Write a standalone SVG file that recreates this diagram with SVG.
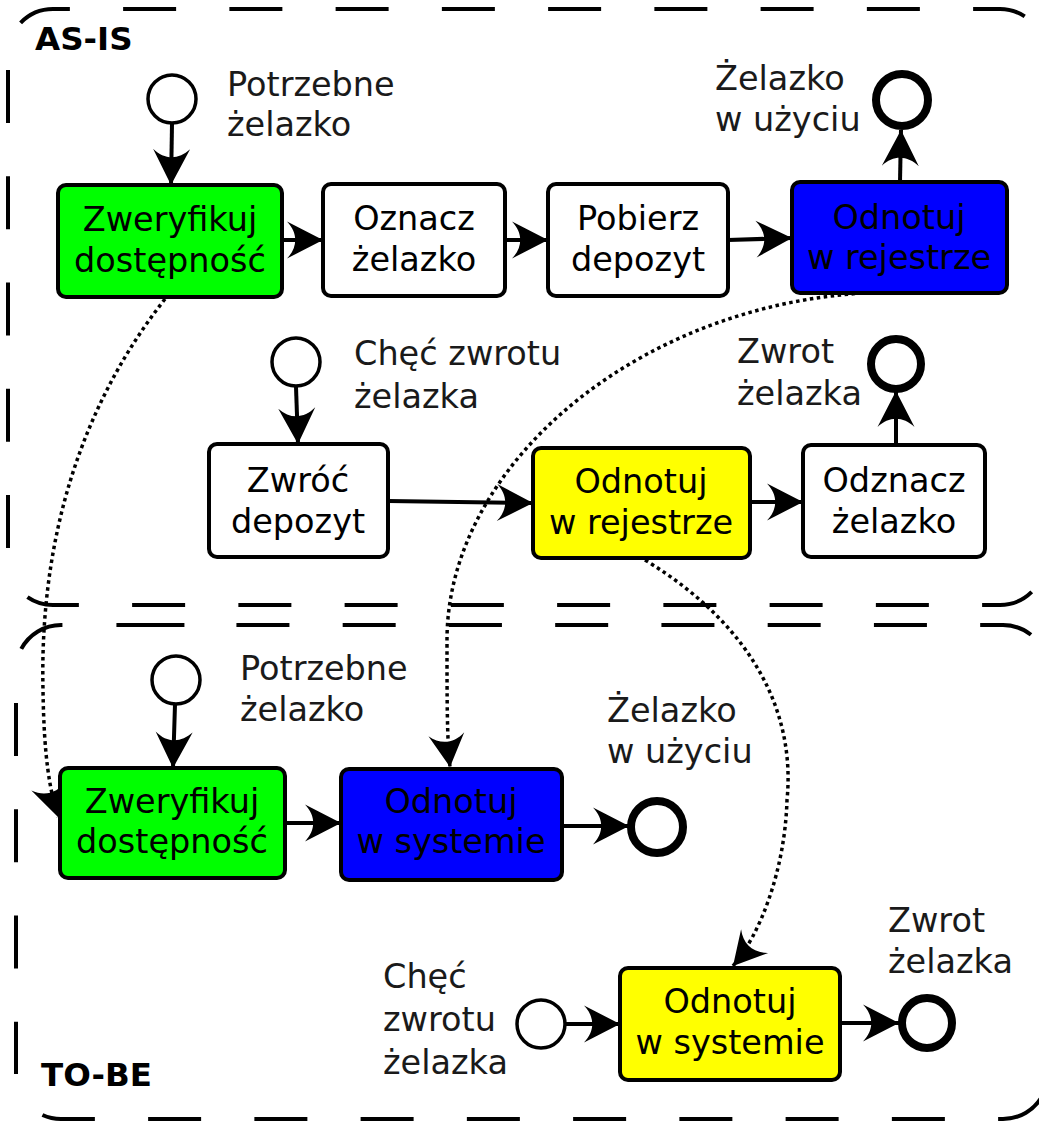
<svg xmlns="http://www.w3.org/2000/svg" width="1039" height="1124" viewBox="0 0 1039 1124">
<style>
.fr{fill:none;stroke:#000;stroke-width:4;stroke-dasharray:53 53.25}
.box{stroke:#000;stroke-width:4}
.t{font-family:"DejaVu Sans",sans-serif;font-size:33.5px;fill:#000;text-anchor:middle}
.l{font-family:"DejaVu Sans",sans-serif;font-size:33.5px;fill:#1a1a1a}
.h{font-family:"DejaVu Sans",sans-serif;font-size:32.5px;font-weight:bold;fill:#000}
.st{fill:#fff;stroke:#000;stroke-width:3.5}
.en{fill:#fff;stroke:#000;stroke-width:8}
.c{fill:none;stroke:#000;stroke-width:4;marker-end:url(#ah)}
.d{fill:none;stroke:#000;stroke-width:3.5;stroke-dasharray:3.5 3.5;marker-end:url(#ahd)}
</style>
<defs>
<marker id="ah" markerUnits="userSpaceOnUse" markerWidth="44" markerHeight="44" viewBox="-38 -22 44 44" refX="0" refY="0" orient="auto">
<path d="M0,0 L-36,-18.5 C-25,-7 -25,7 -36,18.5 Z" fill="#000"/>
</marker>
<marker id="ahd" markerUnits="userSpaceOnUse" markerWidth="44" markerHeight="44" viewBox="-38 -22 44 44" refX="0" refY="0" orient="auto">
<path d="M0,0 L-33,-18 C-23,-7 -23,7 -33,18 Z" fill="#000"/>
</marker>
</defs>

<g id="frame-as-is">
<path class="fr" style="stroke-dashoffset:71.81" d="M8,54 A45,45 0 0 1 53,9 L1000,9 A45,45 0 0 1 1045,54"/>
<path class="fr" style="stroke-dashoffset:90.25" d="M8,54 L8,560"/>
<path class="fr" style="stroke-dashoffset:62.81" d="M8,560 A45,45 0 0 0 53,605 L1000,605 A45,45 0 0 0 1045,560"/>
<path class="fr" d="M1045,54 L1045,560"/>
<text class="h" x="35" y="50">AS-IS</text>
</g>
<g id="frame-to-be">
<path class="fr" style="stroke-dasharray:0,22,50,54,68,52,53,53.25,53,53.25,53,53.25,53,53.25,53,53.25,53,53.25,53,53.25,53,53.25,53,200" d="M16,670 A45,45 0 0 1 61,625 L1003,625 A45,45 0 0 1 1048,670"/>
<path class="fr" style="stroke-dashoffset:73.25" d="M16,670 L16,1074"/>
<path class="fr" style="stroke-dashoffset:54.81" d="M16,1074 A45,45 0 0 0 61,1119 L1003,1119 A45,45 0 0 0 1048,1074"/>
<path class="fr" d="M1048,670 L1048,1074"/>
<text class="h" x="41" y="1086">TO-BE</text>
</g>

<g id="connectors">
<path class="c" d="M172,124 L171,185"/>
<path class="c" d="M282,240 L323,240"/>
<path class="c" d="M505,240 L548,240"/>
<path class="c" d="M728,240 L792,238"/>
<path class="c" d="M900,182 L901,130"/>
<path class="c" d="M296,387 L298,444"/>
<path class="c" d="M388,501 L533,503"/>
<path class="c" d="M750,502 L803,502"/>
<path class="c" d="M896,445 L896,391"/>
<path class="c" d="M175,705 L173,768"/>
<path class="c" d="M285,823 L341,823"/>
<path class="c" d="M562,826 L629,826"/>
<path class="c" d="M565,1024 L620,1024"/>
<path class="c" d="M840,1023 L899,1023"/>
<path class="d" d="M165,299 C70,420 40,560 43,690 C44,760 50,790 58,817"/>
<path class="d" d="M897,292 C650,292 447,460 447,640 C447,700 447,740 450,767"/>
<path class="d" d="M645,560 C760,630 795,720 787,800 C785,870 760,935 733,966"/>
</g>

<g id="as-is-start-1"><circle class="st" cx="172" cy="99" r="24"/>
<text class="l" x="227" y="96">Potrzebne</text><text class="l" x="227" y="136">żelazko</text></g>
<g id="as-is-verify"><rect class="box" x="58" y="185" width="224" height="112" rx="8" fill="#00ff00"/>
<text class="t" x="170" y="231">Zweryfikuj</text><text class="t" x="170" y="272">dostępność</text></g>
<g id="as-is-mark"><rect class="box" x="323" y="184" width="182" height="112" rx="8" fill="#fff"/>
<text class="t" x="414" y="230">Oznacz</text><text class="t" x="414" y="271">żelazko</text></g>
<g id="as-is-deposit"><rect class="box" x="548" y="184" width="180" height="112" rx="8" fill="#fff"/>
<text class="t" x="638" y="230">Pobierz</text><text class="t" x="638" y="271">depozyt</text></g>
<g id="as-is-register"><rect class="box" x="792" y="182" width="215" height="111" rx="8" fill="#0000ff"/>
<text class="t" x="899" y="229">Odnotuj</text><text class="t" x="899" y="269">w rejestrze</text></g>
<g id="as-is-end-1"><circle class="en" cx="902" cy="100" r="26"/>
<text class="l" x="715" y="90">Żelazko</text><text class="l" x="715" y="131">w użyciu</text></g>

<g id="as-is-start-2"><circle class="st" cx="296" cy="362" r="24"/>
<text class="l" x="354" y="365">Chęć zwrotu</text><text class="l" x="354" y="408">żelazka</text></g>
<g id="as-is-return"><rect class="box" x="209" y="444" width="179" height="113" rx="8" fill="#fff"/>
<text class="t" x="298" y="492">Zwróć</text><text class="t" x="298" y="533">depozyt</text></g>
<g id="as-is-register-2"><rect class="box" x="533" y="448" width="217" height="110" rx="8" fill="#ffff00"/>
<text class="t" x="641" y="493">Odnotuj</text><text class="t" x="641" y="534">w rejestrze</text></g>
<g id="as-is-unmark"><rect class="box" x="803" y="445" width="182" height="112" rx="8" fill="#fff"/>
<text class="t" x="894" y="492">Odznacz</text><text class="t" x="894" y="533">żelazko</text></g>
<g id="as-is-end-2"><circle class="en" cx="896" cy="364" r="25"/>
<text class="l" x="737" y="363">Zwrot</text><text class="l" x="737" y="405">żelazka</text></g>

<g id="to-be-start-1"><circle class="st" cx="176" cy="680" r="24"/>
<text class="l" x="240" y="680">Potrzebne</text><text class="l" x="240" y="721">żelazko</text></g>
<g id="to-be-verify"><rect class="box" x="60" y="768" width="225" height="110" rx="8" fill="#00ff00"/>
<text class="t" x="172" y="813">Zweryfikuj</text><text class="t" x="172" y="853">dostępność</text></g>
<g id="to-be-register"><rect class="box" x="341" y="769" width="221" height="111" rx="8" fill="#0000ff"/>
<text class="t" x="451" y="813">Odnotuj</text><text class="t" x="451" y="853">w systemie</text></g>
<g id="to-be-end-1"><circle class="en" cx="657" cy="827" r="26"/>
<text class="l" x="607" y="722">Żelazko</text><text class="l" x="607" y="763">w użyciu</text></g>

<g id="to-be-start-2"><circle class="st" cx="541" cy="1024" r="24"/>
<text class="l" x="383" y="988">Chęć</text><text class="l" x="383" y="1031">zwrotu</text><text class="l" x="383" y="1074">żelazka</text></g>
<g id="to-be-register-2"><rect class="box" x="620" y="968" width="220" height="112" rx="8" fill="#ffff00"/>
<text class="t" x="730" y="1013">Odnotuj</text><text class="t" x="730" y="1054">w systemie</text></g>
<g id="to-be-end-2"><circle class="en" cx="927" cy="1023" r="25"/>
<text class="l" x="888" y="932">Zwrot</text><text class="l" x="888" y="973">żelazka</text></g>
</svg>
